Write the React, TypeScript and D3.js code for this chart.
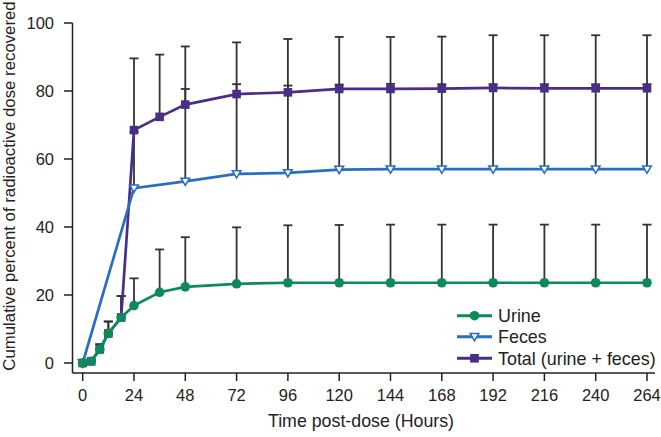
import React from "react";
import * as d3 from "d3";

const times = [0, 4, 8, 12, 18, 24, 36, 48, 72, 96, 120, 144, 168, 192, 216, 240, 264];
const urineMean = [0, 0.5, 4.0, 8.7, 13.4, 16.9, 20.8, 22.4, 23.3, 23.6, 23.6, 23.6, 23.6, 23.6, 23.6, 23.6, 23.6];
const urineUpper = [0, 0.8, 5.5, 12.2, 19.7, 24.9, 33.4, 37.0, 39.9, 40.5, 40.6, 40.7, 40.7, 40.7, 40.7, 40.7, 40.7];

const fecesTimes = [0, 24, 48, 72, 96, 120, 144, 168, 192, 216, 240, 264];
const fecesMean = [0, 51.4, 53.4, 55.6, 55.9, 56.9, 57.0, 57.0, 57.0, 57.0, 57.0, 57.0];
const fecesUpper = [0, 68.0, 80.6, 82.0, 81.6, 81.9, 82.1, 82.0, 82.0, 82.0, 82.0, 82.0];

const totalMean = [0, 0.5, 4.0, 8.7, 13.4, 68.5, 72.4, 76.0, 79.1, 79.6, 80.6, 80.6, 80.7, 80.9, 80.8, 80.8, 80.8];
const totalUpper = [0, 0.8, 5.5, 12.2, 19.7, 89.6, 90.7, 93.1, 94.3, 95.3, 95.9, 95.9, 96.0, 96.4, 96.4, 96.4, 96.4];

const xTicks = [0, 24, 48, 72, 96, 120, 144, 168, 192, 216, 240, 264];
const yTicks = [0, 20, 40, 60, 80, 100];

const legendLabels = ["Urine", "Feces", "Total (urine + feces)"];

const C_URINE = "#0d8a5c";
const C_FECES = "#2a6ebf";
const C_TOTAL = "#4a2d86";
const C_BAR = "#333333";
const FONT = "'Liberation Sans', Arial, Helvetica, sans-serif";

export default function App() {
  const W = 661, H = 437;
  const x = d3.scaleLinear().domain([0, 264]).range([82.7, 647]);
  const y = d3.scaleLinear().domain([0, 100]).range([363, 23]);
  const axisX = 72.5, axisY = 373;

  const line = d3.line<[number, number]>().x(d => x(d[0])).y(d => y(d[1]));

  const urinePts = times.map((t, i) => [t, urineMean[i]] as [number, number]);
  const totalPts = times.map((t, i) => [t, totalMean[i]] as [number, number]);
  const fecesPts = fecesTimes.map((t, i) => [t, fecesMean[i]] as [number, number]);

  const bars: { t: number; m: number; u: number }[] = [];
  times.forEach((t, i) => bars.push({ t, m: totalMean[i], u: totalUpper[i] }));
  fecesTimes.forEach((t, i) => bars.push({ t, m: fecesMean[i], u: fecesUpper[i] }));
  times.forEach((t, i) => bars.push({ t, m: urineMean[i], u: urineUpper[i] }));

  const tri = (cx: number, cy: number, s: number) =>
    `M${cx - s},${cy - s * 0.75} L${cx + s},${cy - s * 0.75} L${cx},${cy + s * 0.95} Z`;

  const legendY = [315.7, 336.7, 358.3];
  const legX0 = 457, legX1 = 492, legTextX = 498;

  return (
    <svg width={W} height={H} style={{ position: "absolute", left: 0, top: 0, background: "#fff" }}>
      <rect width={W} height={H} fill="#fff" />
      {/* axes */}
      <line x1={axisX} y1={y(100)} x2={axisX} y2={axisY} stroke="#222" strokeWidth={1.5} />
      <line x1={axisX} y1={axisY} x2={655} y2={axisY} stroke="#222" strokeWidth={1.5} />
      {yTicks.map(v => (
        <g key={"y" + v}>
          <line x1={64} x2={axisX} y1={y(v)} y2={y(v)} stroke="#222" strokeWidth={1.5} />
          <text x={54} y={y(v)} dy="0.36em" textAnchor="end" fontFamily={FONT} fontSize={16.5} fill="#222">{v}</text>
        </g>
      ))}
      {xTicks.map(v => (
        <g key={"x" + v}>
          <line x1={x(v)} x2={x(v)} y1={axisY} y2={381} stroke="#222" strokeWidth={1.5} />
          <text x={x(v)} y={400.5} textAnchor="middle" fontFamily={FONT} fontSize={16.5} fill="#222">{v}</text>
        </g>
      ))}
      <text x={361} y={426.5} textAnchor="middle" fontFamily={FONT} fontSize={17.8} fill="#222">Time post-dose (Hours)</text>
      <text transform={`translate(15,186) rotate(-90)`} textAnchor="middle" fontFamily={FONT} fontSize={16.8} fill="#222">
        Cumulative percent of radioactive dose recovered
      </text>

      {/* error bars */}
      {bars.filter(b => b.u - b.m > 0.2).map((b, i) => (
        <g key={"b" + i} stroke={C_BAR} strokeWidth={1.8}>
          <line x1={x(b.t)} x2={x(b.t)} y1={y(b.m)} y2={y(b.u)} />
          <line x1={x(b.t) - 4.5} x2={x(b.t) + 4.5} y1={y(b.u)} y2={y(b.u)} />
        </g>
      ))}

      {/* total */}
      <path d={line(totalPts) || ""} fill="none" stroke={C_TOTAL} strokeWidth={2.7} />
      {totalPts.map((p, i) => (
        <rect key={"t" + i} x={x(p[0]) - 4.3} y={y(p[1]) - 4.3} width={8.6} height={8.6} fill={C_TOTAL} />
      ))}
      {/* feces */}
      <path d={line(fecesPts) || ""} fill="none" stroke={C_FECES} strokeWidth={2.7} />
      {fecesPts.map((p, i) => (
        <path key={"f" + i} d={tri(x(p[0]), y(p[1]), 4.3)} fill="#fff" stroke={C_FECES} strokeWidth={1.6} />
      ))}
      {/* urine */}
      <path d={line(urinePts) || ""} fill="none" stroke={C_URINE} strokeWidth={2.7} />
      {urinePts.map((p, i) => (
        <circle key={"u" + i} cx={x(p[0])} cy={y(p[1])} r={4.8} fill={C_URINE} />
      ))}

      {/* legend */}
      {legendLabels.map((lab, i) => {
        const cy = legendY[i];
        const cx = (legX0 + legX1) / 2;
        const color = [C_URINE, C_FECES, C_TOTAL][i];
        return (
          <g key={"l" + i}>
            <line x1={legX0} x2={legX1} y1={cy} y2={cy} stroke={color} strokeWidth={3} />
            {i === 0 && <circle cx={cx} cy={cy} r={4.8} fill={color} />}
            {i === 1 && <path d={tri(cx, cy, 4.3)} fill="#fff" stroke={color} strokeWidth={1.6} />}
            {i === 2 && <rect x={cx - 4.3} y={cy - 4.3} width={8.6} height={8.6} fill={color} />}
            <text x={legTextX} y={cy} dy="0.36em" fontFamily={FONT} fontSize={17.9} fill="#222">{lab}</text>
          </g>
        );
      })}
    </svg>
  );
}
